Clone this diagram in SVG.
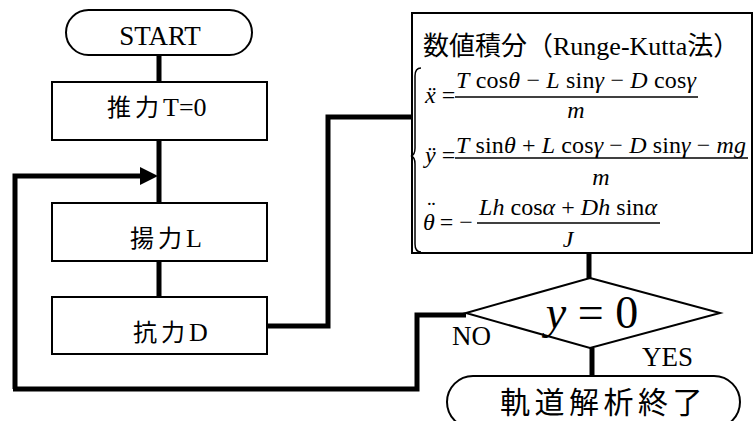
<svg xmlns="http://www.w3.org/2000/svg" width="754" height="421" viewBox="0 0 754 421">
<style>
.box{fill:#fff;stroke:#000;stroke-width:2}
.conn{fill:none;stroke:#000;stroke-width:5}
.frac{stroke:#000;stroke-width:1.5}
.s{font-family:Liberation Serif,DejaVu Serif,serif}
.j{font-family:Noto Sans CJK JP,sans-serif}
.i{font-style:italic}
</style>
<rect width="754" height="421" fill="#fff"/>
<g id="connectors">
<path class="conn" d="M159 55V82M159 140V203M159 261V297"/>
<path class="conn" d="M15 389V176H142"/>
<polygon points="140,167 158,176 140,185" fill="#000"/>
<path class="conn" d="M267 326H328V117H412"/>
<path class="conn" d="M589 253V278"/>
<path class="conn" d="M592 348V376"/>
<path class="conn" d="M466 315H417V389H13"/>
</g>
<g id="start">
<rect class="box" x="66" y="10" width="186" height="45" rx="22.5"/>
<text class="s" x="160" y="45" font-size="27" text-anchor="middle">START</text>
</g>
<g id="thrust">
<rect class="box" x="52" y="82" width="215" height="58"/>
<text class="s" x="107" y="116" font-size="26"><tspan class="j" font-size="24" letter-spacing="4">推力</tspan>T=0</text>
</g>
<g id="lift">
<rect class="box" x="52" y="203" width="215" height="58"/>
<text class="s" x="130" y="247" font-size="26"><tspan class="j" font-size="24" letter-spacing="4">揚力</tspan>L</text>
</g>
<g id="drag">
<rect class="box" x="52" y="297" width="215" height="57"/>
<text class="s" x="133" y="341" font-size="26"><tspan class="j" font-size="24" letter-spacing="4">抗力</tspan>D</text>
</g>
<g id="integration">
<rect class="box" x="412" y="13" width="340" height="240"/>
<text class="s" x="423" y="55" font-size="26"><tspan class="j">数値積分（</tspan>Runge-Kutta<tspan class="j">法）</tspan></text>
<path d="M421 68Q415 68 415 76V148Q415 155 411 156Q415 157 415 164V244Q415 252 421 252" fill="none" stroke="#000" stroke-width="1.5"/>
<g class="s" font-size="24">
<text x="425" y="103"><tspan class="i">ẍ</tspan> =</text>
<text x="576" y="88" text-anchor="middle" textLength="240"><tspan class="i">T</tspan> cos<tspan class="i">θ</tspan> − <tspan class="i">L</tspan> sin<tspan class="i">γ</tspan> − <tspan class="i">D</tspan> cos<tspan class="i">γ</tspan></text>
<line class="frac" x1="455" y1="97" x2="698" y2="97"/>
<text x="576" y="118" text-anchor="middle" class="i">m</text>
<text x="425" y="163"><tspan class="i">ÿ</tspan> =</text>
<text x="601" y="153" text-anchor="middle" textLength="290"><tspan class="i">T</tspan> sin<tspan class="i">θ</tspan> + <tspan class="i">L</tspan> cos<tspan class="i">γ</tspan> − <tspan class="i">D</tspan> sin<tspan class="i">γ</tspan> − <tspan class="i">mg</tspan></text>
<line class="frac" x1="455" y1="158" x2="748" y2="158"/>
<text x="601" y="185" text-anchor="middle" class="i">m</text>
<text x="423" y="230"><tspan class="i">θ</tspan><tspan class="i" dx="-9" dy="-12">¨</tspan><tspan dy="12"> = −</tspan></text>
<text x="568" y="215" text-anchor="middle" textLength="178"><tspan class="i">Lh</tspan> cos<tspan class="i">α</tspan> + <tspan class="i">Dh</tspan> sin<tspan class="i">α</tspan></text>
<line class="frac" x1="477" y1="223" x2="660" y2="223"/>
<text x="568" y="247" text-anchor="middle" class="i">J</text>
</g>
</g>
<g id="decision">
<polygon class="box" points="590,278 720,313 590,348 466,313"/>
<text class="s" x="592" y="328" font-size="46" text-anchor="middle"><tspan class="i">y</tspan> = 0</text>
</g>
<text class="s" x="452" y="345" font-size="27">NO</text>
<text class="s" x="642" y="366" font-size="27">YES</text>
<g id="end">
<rect class="box" x="447" y="376" width="293" height="52" rx="26"/>
<text class="j" x="500" y="413" font-size="30" letter-spacing="4.5">軌道解析終了</text>
</g>
</svg>
